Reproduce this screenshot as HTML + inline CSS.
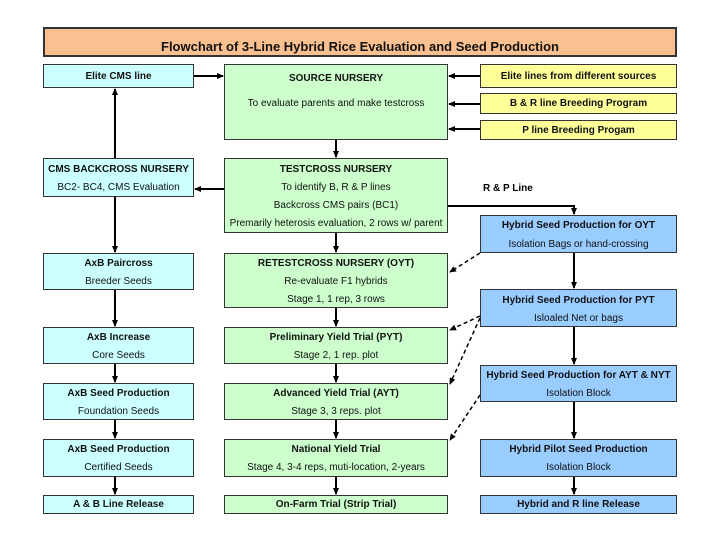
<!DOCTYPE html>
<html><head><meta charset="utf-8"><style>
body{margin:0;background:#fff;width:720px;height:540px;overflow:hidden;font-family:"Liberation Sans",Arial,sans-serif;}
.b{position:absolute;box-sizing:border-box;border:1px solid #333;text-align:center;font-size:10px;color:#111;}
.c{background:#ccffff}.g{background:#ccffcc}.y{background:#ffff99}.u{background:#99ccff}
.t{position:absolute;left:0;right:0;text-align:center;white-space:nowrap}
b{font-weight:bold}
svg{position:absolute;left:0;top:0}
</style></head><body>
<div class="b" style="left:43px;top:27px;width:634px;height:30px;background:#fac090;border:2px solid #333;font-size:13px;font-weight:bold;line-height:36px">Flowchart of 3-Line Hybrid Rice Evaluation and Seed Production</div>

<div class="b c" style="left:43px;top:64px;width:151px;height:24px"><b class="t" style="top:6px">Elite CMS line</b></div>
<div class="b c" style="left:43px;top:158px;width:151px;height:39px"><b class="t" style="top:5px">CMS BACKCROSS NURSERY</b><span class="t" style="top:23px">BC2- BC4, CMS Evaluation</span></div>
<div class="b c" style="left:43px;top:253px;width:151px;height:37px"><b class="t" style="top:4px">AxB Paircross</b><span class="t" style="top:22px">Breeder Seeds</span></div>
<div class="b c" style="left:43px;top:327px;width:151px;height:37px"><b class="t" style="top:4px">AxB Increase</b><span class="t" style="top:22px">Core Seeds</span></div>
<div class="b c" style="left:43px;top:383px;width:151px;height:37px"><b class="t" style="top:4px">AxB Seed Production</b><span class="t" style="top:22px">Foundation Seeds</span></div>
<div class="b c" style="left:43px;top:439px;width:151px;height:38px"><b class="t" style="top:4px">AxB Seed Production</b><span class="t" style="top:22px">Certified Seeds</span></div>
<div class="b c" style="left:43px;top:495px;width:151px;height:19px"><b class="t" style="top:3px">A &amp; B Line Release</b></div>

<div class="b g" style="left:224px;top:64px;width:224px;height:76px"><b class="t" style="top:8px">SOURCE NURSERY</b><span class="t" style="top:33px">To evaluate parents and make testcross</span></div>
<div class="b g" style="left:224px;top:158px;width:224px;height:75px"><b class="t" style="top:5px">TESTCROSS NURSERY</b><span class="t" style="top:23px">To identify B, R &amp; P lines</span><span class="t" style="top:41px">Backcross CMS pairs (BC1)</span><span class="t" style="top:59px">Premarily heterosis evaluation, 2 rows w/ parent</span></div>
<div class="b g" style="left:224px;top:253px;width:224px;height:55px"><b class="t" style="top:4px">RETESTCROSS NURSERY (OYT)</b><span class="t" style="top:22px">Re-evaluate F1 hybrids</span><span class="t" style="top:40px">Stage 1, 1 rep, 3 rows</span></div>
<div class="b g" style="left:224px;top:327px;width:224px;height:37px"><b class="t" style="top:4px">Preliminary Yield Trial (PYT)</b><span class="t" style="top:22px">Stage 2, 1 rep. plot</span></div>
<div class="b g" style="left:224px;top:383px;width:224px;height:37px"><b class="t" style="top:4px">Advanced Yield Trial (AYT)</b><span class="t" style="top:22px">Stage 3, 3 reps. plot</span></div>
<div class="b g" style="left:224px;top:439px;width:224px;height:38px"><b class="t" style="top:4px">National Yield Trial</b><span class="t" style="top:22px">Stage 4, 3-4 reps, muti-location, 2-years</span></div>
<div class="b g" style="left:224px;top:495px;width:224px;height:19px"><b class="t" style="top:3px">On-Farm Trial (Strip Trial)</b></div>

<div class="b y" style="left:480px;top:64px;width:197px;height:24px"><b class="t" style="top:6px">Elite lines from different sources</b></div>
<div class="b y" style="left:480px;top:93px;width:197px;height:21px"><b class="t" style="top:4px">B &amp; R line Breeding Program</b></div>
<div class="b y" style="left:480px;top:120px;width:197px;height:20px"><b class="t" style="top:4px">P line Breeding Progam</b></div>
<div class="b u" style="left:480px;top:215px;width:197px;height:38px"><b class="t" style="top:4px">Hybrid Seed Production for OYT</b><span class="t" style="top:23px">Isolation Bags or hand-crossing</span></div>
<div class="b u" style="left:480px;top:289px;width:197px;height:38px"><b class="t" style="top:5px">Hybrid Seed Production for PYT</b><span class="t" style="top:23px">Isloaled Net or bags</span></div>
<div class="b u" style="left:480px;top:365px;width:197px;height:37px"><b class="t" style="top:4px">Hybrid Seed Production for AYT &amp; NYT</b><span class="t" style="top:22px">Isolation Block</span></div>
<div class="b u" style="left:480px;top:439px;width:197px;height:38px"><b class="t" style="top:4px">Hybrid Pilot Seed Production</b><span class="t" style="top:22px">Isolation Block</span></div>
<div class="b u" style="left:480px;top:495px;width:197px;height:19px"><b class="t" style="top:3px">Hybrid and R line Release</b></div>
<b style="position:absolute;left:483px;top:183px;font-size:10px">R &amp; P Line</b>

<svg width="720" height="540">
<defs><marker id="a" markerUnits="userSpaceOnUse" markerWidth="7" markerHeight="6" refX="6" refY="3" orient="auto"><path d="M0,0L7,3L0,6z" fill="#000"/></marker></defs>
<g stroke="#000" stroke-width="2" fill="none" marker-end="url(#a)">
<line x1="194" y1="76" x2="223" y2="76"/>
<line x1="480" y1="76" x2="449" y2="76"/>
<line x1="480" y1="104" x2="449" y2="104"/>
<line x1="480" y1="129" x2="449" y2="129"/>
<line x1="336" y1="140" x2="336" y2="157"/>
<line x1="224" y1="189" x2="195" y2="189"/>
<line x1="115" y1="158" x2="115" y2="89"/>
<line x1="115" y1="197" x2="115" y2="252"/>
<line x1="115" y1="290" x2="115" y2="326"/>
<line x1="115" y1="364" x2="115" y2="382"/>
<line x1="115" y1="420" x2="115" y2="438"/>
<line x1="115" y1="477" x2="115" y2="494"/>
<line x1="336" y1="233" x2="336" y2="252"/>
<line x1="336" y1="308" x2="336" y2="326"/>
<line x1="336" y1="364" x2="336" y2="382"/>
<line x1="336" y1="420" x2="336" y2="438"/>
<line x1="336" y1="477" x2="336" y2="494"/>
<polyline points="448,206 574,206 574,214"/>
<line x1="574" y1="253" x2="574" y2="288"/>
<line x1="574" y1="327" x2="574" y2="364"/>
<line x1="574" y1="402" x2="574" y2="438"/>
<line x1="574" y1="477" x2="574" y2="494"/>
</g>
<g stroke="#000" stroke-width="1.5" fill="none" stroke-dasharray="4,3" marker-end="url(#a)">
<line x1="480" y1="253" x2="450" y2="272"/>
<line x1="480" y1="316" x2="450" y2="330"/>
<line x1="480" y1="318" x2="450" y2="384"/>
<line x1="480" y1="395" x2="450" y2="440"/>
</g>
</svg>
</body></html>
